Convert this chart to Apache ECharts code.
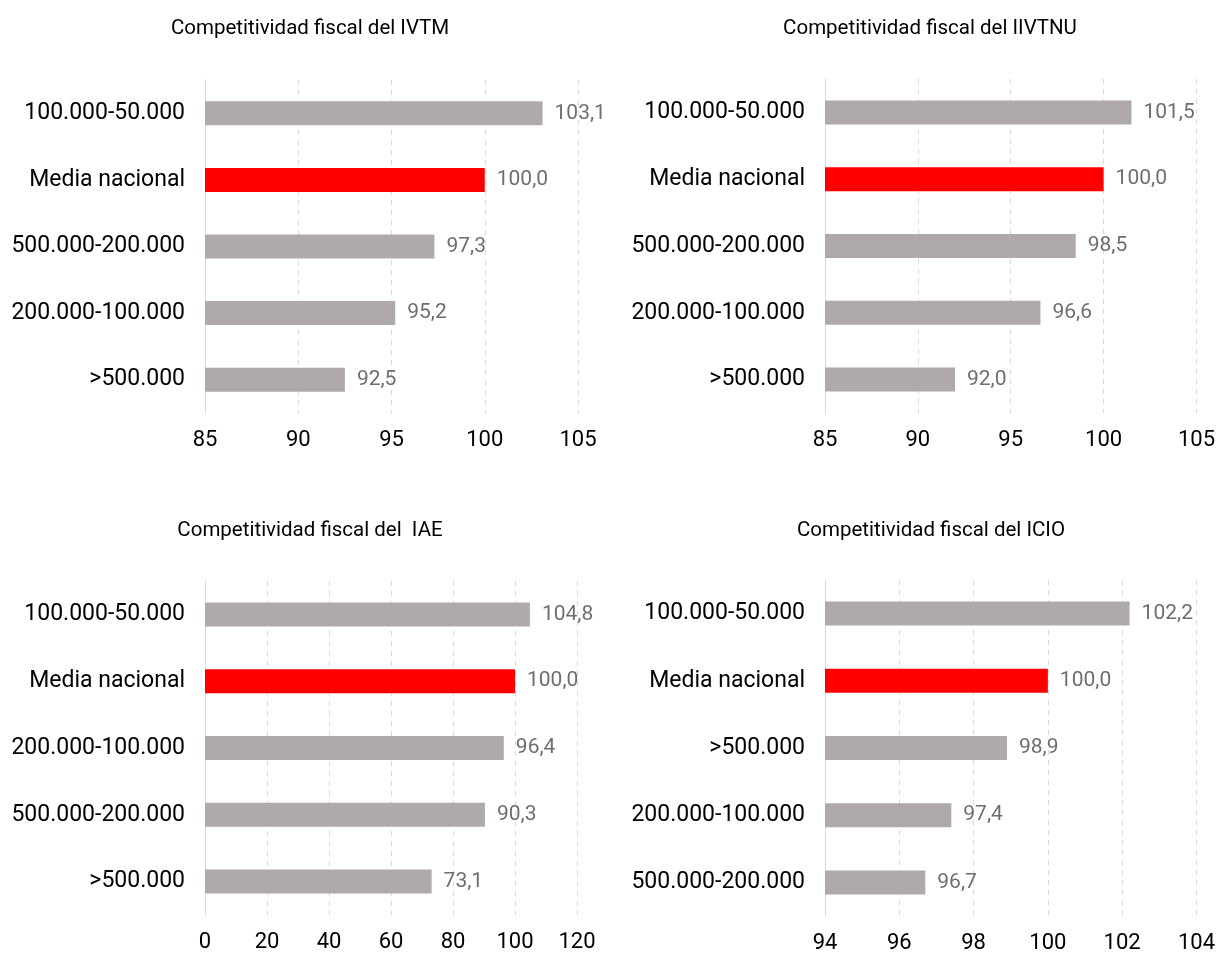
<!DOCTYPE html>
<html><head><meta charset="utf-8">
<script src="https://cdn.jsdelivr.net/npm/echarts@6/dist/echarts.min.js"></script>
<style>html,body{margin:0;padding:0;background:#fff}#c{width:1218px;height:954px}</style>
</head><body><div id="c"></div>
<script>
const titles = ['Competitividad fiscal del IVTM','Competitividad fiscal del IIVTNU','Competitividad fiscal del  IAE','Competitividad fiscal del ICIO'];
const catsIVTM = ['100.000-50.000','Media nacional','500.000-200.000','200.000-100.000','>500.000'];
const valsIVTM = [103.1,100.0,97.3,95.2,92.5];
const catsIIVTNU = ['100.000-50.000','Media nacional','500.000-200.000','200.000-100.000','>500.000'];
const valsIIVTNU = [101.5,100.0,98.5,96.6,92.0];
const catsIAE = ['100.000-50.000','Media nacional','200.000-100.000','500.000-200.000','>500.000'];
const valsIAE = [104.8,100.0,96.4,90.3,73.1];
const catsICIO = ['100.000-50.000','Media nacional','>500.000','200.000-100.000','500.000-200.000'];
const valsICIO = [102.2,100.0,98.9,97.4,96.7];
const axisRanges = [[85,105,5],[85,105,5],[0,120,20],[94,104,2]];

const panels = [[catsIVTM,valsIVTM],[catsIIVTNU,valsIIVTNU],[catsIAE,valsIAE],[catsICIO,valsICIO]];
const grids = [
  {left:205, top:80, width:373, height:333},
  {left:825, top:79, width:373, height:334},
  {left:205, top:581, width:372, height:334},
  {left:825, top:580, width:375, height:337}
];
const titlePos = [[305,13],[925,13],[305,515],[926,515]];
const FONT = 'Roboto';
const option = {
  animation:false,
  textStyle:{fontFamily:FONT},
  title: titles.map((t,i)=>({text:t,left:titlePos[i][0],top:titlePos[i][1],textAlign:'center',
    textStyle:{fontFamily:FONT,fontSize:20.5,fontWeight:'normal',color:'#000'}})),
  grid: grids.map(g=>Object.assign({containLabel:false},g)),
  xAxis: axisRanges.map((r,i)=>({type:'value',gridIndex:i,min:r[0],max:r[1],interval:r[2],
    axisLine:{show:false},axisTick:{show:false},
    splitLine:{show:true,lineStyle:{type:[5,5],color:'#d9d9d9',width:1}},
    axisLabel:{fontFamily:FONT,fontSize:22,color:'#000',margin:16}})),
  yAxis: panels.map((p,i)=>({type:'category',gridIndex:i,data:p[0],inverse:true,
    axisLine:{show:true,lineStyle:{color:'#d9d9d9',width:1}},axisTick:{show:false},
    axisLabel:{fontFamily:FONT,fontSize:23,color:'#000',margin:20}})),
  series: panels.map((p,i)=>({type:'bar',xAxisIndex:i,yAxisIndex:i,barWidth:24,
    data:p[1].map((v,j)=>({value:v,itemStyle:{color:p[0][j]==='Media nacional'?'#ff0000':'#afaaa9'}})),
    label:{show:true,position:'right',distance:12,fontFamily:FONT,fontSize:21,color:'#6e6e6e',
      formatter:(d)=>d.value.toFixed(1).replace('.',',')}}))
};
echarts.init(document.getElementById('c')).setOption(option);
</script></body></html>
